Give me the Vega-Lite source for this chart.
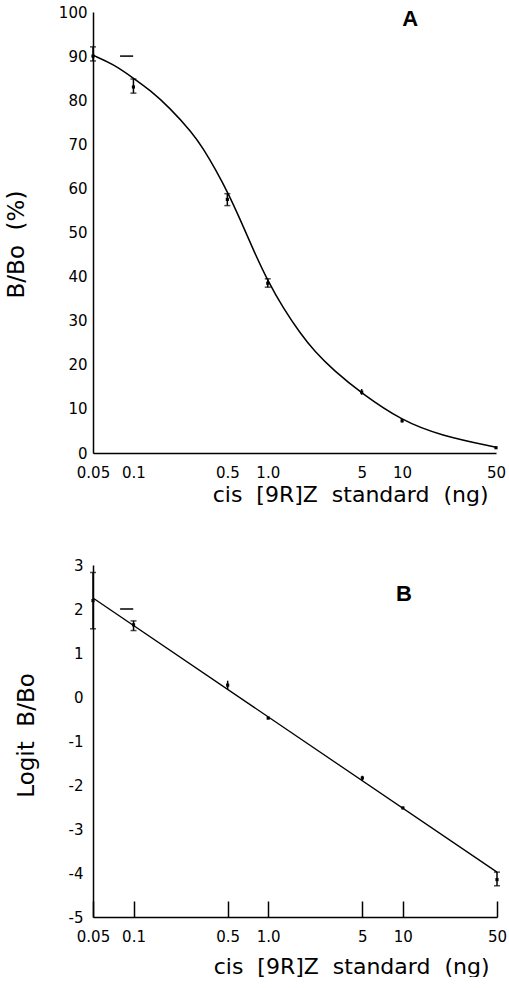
{
  "$schema": "https://vega.github.io/schema/vega-lite/v6.json",
  "padding": {"left": 5, "top": 5, "right": 0, "bottom": 0},
  "spacing": 53,
  "config": {
    "view": {"stroke": null},
    "font": "DejaVu Sans",
    "axis": {
      "domainColor": "black", "domainWidth": 1.5, "tickColor": "black", "tickWidth": 1.5,
      "labelColor": "black", "titleColor": "black", "grid": false, "labelOverlap": false, "labelFlush": false,
      "labelFont": "DejaVu Sans", "labelFontSize": 15, "titleFont": "DejaVu Sans", "titleFontWeight": "normal"
    }
  },
  "datasets": {
    "pointsA": [
      {"x": 0.05, "y": 90, "lo": 88.9, "hi": 92.1},
      {"x": 0.1, "y": 83, "lo": 81.6, "hi": 84.8},
      {"x": 0.5, "y": 57.5, "lo": 56.1, "hi": 58.8},
      {"x": 1.0, "y": 38.5, "lo": 37.6, "hi": 39.5},
      {"x": 5, "y": 13.8, "lo": 13.2, "hi": 14.5},
      {"x": 10, "y": 7.3, "lo": 6.9, "hi": 7.7},
      {"x": 50, "y": 1.2, "lo": 1.2, "hi": 1.2}
    ],
    "curveA": [
      {"x": 0.05, "y": 90.2},
      {"x": 0.0706, "y": 88.2},
      {"x": 0.1, "y": 85.0},
      {"x": 0.1327, "y": 82.3},
      {"x": 0.1845, "y": 78.4},
      {"x": 0.2748, "y": 72.6},
      {"x": 0.3311, "y": 69.0},
      {"x": 0.4064, "y": 64.4},
      {"x": 0.5093, "y": 58.8},
      {"x": 0.6224, "y": 53.0},
      {"x": 0.7816, "y": 46.0},
      {"x": 1.0, "y": 39.0},
      {"x": 1.306, "y": 32.8},
      {"x": 1.738, "y": 27.2},
      {"x": 2.234, "y": 23.0},
      {"x": 3.076, "y": 18.8},
      {"x": 5, "y": 13.5},
      {"x": 10, "y": 7.3},
      {"x": 19.19, "y": 4.0},
      {"x": 50, "y": 1.3}
    ],
    "ticksA": [{"v": 0}, {"v": 10}, {"v": 20}, {"v": 30}, {"v": 40}, {"v": 50}, {"v": 60}, {"v": 70}, {"v": 80}, {"v": 90}, {"v": 100}],
    "dashA": [{"x": 0.0795, "x2": 0.0995, "y": 90}],
    "labelA": [{"x": 11.5, "y": 98.5, "t": "A"}],
    "pointsB": [
      {"x": 0.05, "y": 2.19, "lo": 1.55, "hi": 2.83},
      {"x": 0.1, "y": 1.64, "lo": 1.51, "hi": 1.73},
      {"x": 0.5, "y": 0.27, "lo": 0.18, "hi": 0.37},
      {"x": 1.0, "y": -0.48, "lo": -0.5, "hi": -0.46},
      {"x": 5, "y": -1.84, "lo": -1.9, "hi": -1.79},
      {"x": 10, "y": -2.52, "lo": -2.55, "hi": -2.5},
      {"x": 50, "y": -4.15, "lo": -4.29, "hi": -3.98}
    ],
    "lineB": [{"x": 0.05, "y": 2.25}, {"x": 50, "y": -3.98}],
    "ticksB": [{"v": -5}, {"v": -4}, {"v": -3}, {"v": -2}, {"v": -1}, {"v": 0}, {"v": 1}, {"v": 2}, {"v": 3}],
    "dashB": [{"x": 0.0795, "x2": 0.0995, "y": 2.0}],
    "labelB": [{"x": 10.2, "y": 2.35, "t": "B"}]
  },
  "vconcat": [
    {
      "width": 403,
      "height": 441,
      "encoding": {
        "x": {"field": "x", "type": "quantitative",
          "scale": {"type": "log", "domain": [0.05, 50], "nice": false},
          "axis": {"values": [0.05, 0.1, 0.5, 1, 5, 10, 50], "ticks": false, "labelPadding": 12,
            "labelExpr": "datum.value == 1 ? '1.0' : toString(datum.value)",
            "title": "cis\u00a0\u00a0[9R]Z\u00a0\u00a0standard\u00a0\u00a0(ng)", "titleFontSize": 22, "titleX": 395, "titleAlign": "right", "titlePadding": 4}},
        "y": {"field": "y", "type": "quantitative", "scale": {"domain": [0, 100], "nice": false},
          "axis": {"values": [0, 10, 20, 30, 40, 50, 60, 70, 80, 90, 100], "ticks": false, "labelPadding": 6,
            "title": "B/Bo\u00a0\u00a0(%)", "titleFontSize": 23, "titlePadding": 30, "titleY": 232}}
      },
      "layer": [
        {"data": {"name": "ticksA"}, "mark": {"type": "rule", "color": "black", "strokeWidth": 1.5},
          "encoding": {"x": {"datum": 0.05}, "x2": {"datum": 0.0636}, "y": {"field": "v", "type": "quantitative"}}},
        {"data": {"name": "curveA"}, "mark": {"type": "line", "color": "black", "strokeWidth": 1.5, "interpolate": "basis"}},
        {"data": {"name": "pointsA"}, "mark": {"type": "rule", "color": "black", "strokeWidth": 1.5},
          "encoding": {"y": {"field": "lo", "type": "quantitative"}, "y2": {"field": "hi"}}},
        {"data": {"name": "pointsA"}, "transform": [{"filter": "datum.x <= 1"}], "mark": {"type": "tick", "orient": "horizontal", "color": "black", "size": 6, "thickness": 1.5},
          "encoding": {"y": {"field": "lo", "type": "quantitative"}}},
        {"data": {"name": "pointsA"}, "transform": [{"filter": "datum.x <= 1"}], "mark": {"type": "tick", "orient": "horizontal", "color": "black", "size": 6, "thickness": 1.5},
          "encoding": {"y": {"field": "hi", "type": "quantitative"}}},
        {"data": {"name": "pointsA"}, "mark": {"type": "point", "shape": "square", "filled": true, "color": "black", "size": 10, "opacity": 1}},
        {"data": {"name": "dashA"}, "mark": {"type": "rule", "color": "black", "strokeWidth": 1.5},
          "encoding": {"x2": {"field": "x2"}}},
        {"data": {"name": "labelA"}, "mark": {"type": "text", "font": "Liberation Sans", "fontWeight": "bold", "fontSize": 22, "color": "black"},
          "encoding": {"text": {"field": "t"}}}
      ]
    },
    {
      "width": 404,
      "height": 352,
      "encoding": {
        "x": {"field": "x", "type": "quantitative",
          "scale": {"type": "log", "domain": [0.05, 50], "nice": false},
          "axis": {"values": [0.05, 0.1, 0.5, 1, 5, 10, 50], "tickSize": -16, "labelPadding": 28,
            "labelExpr": "datum.value == 1 ? '1.0' : toString(datum.value)",
            "title": "cis\u00a0\u00a0[9R]Z\u00a0\u00a0standard\u00a0\u00a0(ng)", "titleFontSize": 22, "titleX": 396, "titleAlign": "right", "titlePadding": 12}},
        "y": {"field": "y", "type": "quantitative", "scale": {"domain": [-5, 3], "nice": false},
          "axis": {"values": [-5, -4, -3, -2, -1, 0, 1, 2, 3], "ticks": false, "labelPadding": 10,
            "labelExpr": "toString(datum.value)",
            "title": "Logit\u00a0\u00a0B/Bo", "titleFontSize": 23, "titlePadding": 30, "titleY": 170}}
      },
      "layer": [
        {"data": {"name": "ticksB"}, "mark": {"type": "rule", "color": "black", "strokeWidth": 1.5},
          "encoding": {"x": {"datum": 0.05}, "x2": {"datum": 0.0625}, "y": {"field": "v", "type": "quantitative"}}},
        {"data": {"name": "lineB"}, "mark": {"type": "line", "color": "black", "strokeWidth": 1.3}},
        {"data": {"name": "pointsB"}, "mark": {"type": "rule", "color": "black", "strokeWidth": 1.5},
          "encoding": {"y": {"field": "lo", "type": "quantitative"}, "y2": {"field": "hi"}}},
        {"data": {"name": "pointsB"}, "transform": [{"filter": "datum.x <= 0.1 || datum.x == 50"}], "mark": {"type": "tick", "orient": "horizontal", "color": "black", "size": 6, "thickness": 1.5},
          "encoding": {"y": {"field": "lo", "type": "quantitative"}}},
        {"data": {"name": "pointsB"}, "transform": [{"filter": "datum.x <= 0.1 || datum.x == 50"}], "mark": {"type": "tick", "orient": "horizontal", "color": "black", "size": 6, "thickness": 1.5},
          "encoding": {"y": {"field": "hi", "type": "quantitative"}}},
        {"data": {"name": "pointsB"}, "mark": {"type": "point", "shape": "square", "filled": true, "color": "black", "size": 10, "opacity": 1}},
        {"data": {"name": "dashB"}, "mark": {"type": "rule", "color": "black", "strokeWidth": 1.5},
          "encoding": {"x2": {"field": "x2"}}},
        {"data": {"name": "labelB"}, "mark": {"type": "text", "font": "Liberation Sans", "fontWeight": "bold", "fontSize": 22, "color": "black"},
          "encoding": {"text": {"field": "t"}}}
      ]
    }
  ]
}
